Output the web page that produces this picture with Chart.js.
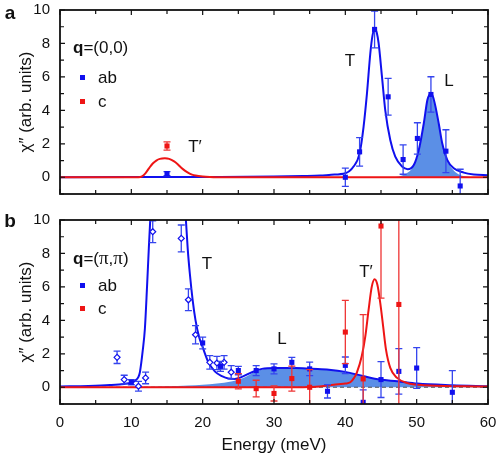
<!DOCTYPE html>
<html>
<head>
<meta charset="utf-8">
<script src="https://cdn.jsdelivr.net/npm/chart.js@4.4.1/dist/chart.umd.min.js"></script>
<style>
  body { margin: 0; background: #fff; }
  #wrap { position: relative; width: 503px; height: 459px; overflow: hidden; background: #fff; }
  canvas { position: absolute; left: 0; }
  .lab { position: absolute; font-family: 'Liberation Sans', Arial, sans-serif; font-size: 17px; color: #111;
         white-space: nowrap; transform: translate(-50%, -50%); line-height: 1; }
  .lft { transform: translate(0, -50%); }
  .pan { font-weight: bold; font-size: 19px; }
  .sq { position: absolute; width: 5px; height: 5px; }
  .pi { font-family: 'Liberation Serif', 'DejaVu Serif', serif; font-size: 19px; }
</style>
</head>
<body>
<div id="wrap">
  <canvas id="chartA" width="503" height="200" style="top:0"></canvas>
  <canvas id="chartB" width="503" height="259" style="top:200px"></canvas>

  <div class="lab pan" style="left:10px; top:12px">a</div>
  <div class="lab lft" style="left:73px; top:47px"><b>q</b>=(0,0)</div>
  <div class="sq" style="left:80px; top:75px; background:#1010ee"></div>
  <div class="lab lft" style="left:98px; top:77px">ab</div>
  <div class="sq" style="left:80px; top:99px; background:#ee1515"></div>
  <div class="lab lft" style="left:98px; top:101px">c</div>
  <div class="lab" style="left:195px; top:146px">T′</div>
  <div class="lab" style="left:350px; top:60px">T</div>
  <div class="lab" style="left:449px; top:80px">L</div>

  <div class="lab pan" style="left:10px; top:220px">b</div>
  <div class="lab lft" style="left:73px; top:257px"><b>q</b>=(<span class="pi">π</span>,<span class="pi">π</span>)</div>
  <div class="sq" style="left:80px; top:283px; background:#1010ee"></div>
  <div class="lab lft" style="left:98px; top:285px">ab</div>
  <div class="sq" style="left:80px; top:306px; background:#ee1515"></div>
  <div class="lab lft" style="left:98px; top:308px">c</div>
  <div class="lab" style="left:207px; top:263px">T</div>
  <div class="lab" style="left:282px; top:338px">L</div>
  <div class="lab" style="left:366px; top:271px">T′</div>
</div>

<script>
// 軸の目盛り
const energyTicks = [0, 10, 20, 30, 40, 50, 60];
const energyMinor = [5, 15, 25, 35, 45, 55];
const chiTicks = [0, 2, 4, 6, 8, 10];
const chiMinor = [-1, 1, 3, 5, 7, 9];

// (a) q=(0,0) の測定点
const aAbE = [15, 40, 42, 44.1, 46, 48.1, 50.1, 52, 54.1, 56.1];
const aAbY = [0.22, 0.0, 1.52, 8.84, 4.81, 1.06, 2.32, 4.95, 1.56, -0.52];
const aAbErr = [0.12, 0.55, 0.85, 1.1, 1.1, 0.88, 0.94, 1.06, 1.28, 1.0];
const aCE = [15];
const aCY = [1.87];
const aCErr = [0.25];

// (a) フィット曲線
const aFitE = [0, 10, 20, 30, 34, 36.5, 38, 40, 41.15, 42, 42.56, 43.03, 43.5, 43.8, 44.1, 44.4, 44.67, 45.14, 45.6, 46.3, 47, 47.95, 48.74, 49.6, 50.3, 51, 51.5, 51.75, 52, 52.3, 52.6, 53.1, 53.6, 54.3, 55.2, 56.6, 58, 60];
const aFitY = [0.0, 0.01, 0.02, 0.04, 0.07, 0.1, 0.15, 0.24, 0.64, 1.43, 3.03, 5.0, 7.4, 8.45, 8.9, 8.65, 8.0, 6.0, 4.0, 2.23, 1.23, 0.64, 0.48, 0.73, 1.63, 3.23, 4.62, 4.9, 5.0, 4.8, 4.3, 3.2, 2.0, 1.03, 0.54, 0.28, 0.17, 0.12];
const aLE = [46.5, 47.5, 48.2, 48.8, 49.3, 49.8, 50.3, 51, 51.5, 51.75, 52, 52.3, 52.6, 53.1, 53.6, 54.3, 55.2, 56, 57, 58];
const aLY = [0, 0.05, 0.15, 0.3, 0.5, 0.85, 1.5, 3.2, 4.6, 4.9, 5.0, 4.8, 4.3, 3.2, 2.0, 1.0, 0.4, 0.15, 0.04, 0];
const aTpE = [0, 10, 11, 11.5, 12, 12.5, 13, 13.5, 14, 14.7, 15.3, 16, 16.5, 17, 17.5, 18, 18.5, 19, 20, 21, 22, 30, 60];
const aTpY = [0, 0, 0, 0.05, 0.25, 0.55, 0.82, 1.0, 1.1, 1.13, 1.1, 0.95, 0.78, 0.57, 0.4, 0.26, 0.16, 0.1, 0.04, 0.01, 0, 0, 0];

// (b) q=(π,π) の測定点
const bDiaE = [8, 9, 11, 12, 13, 17, 18, 19, 21, 22, 23, 24];
const bDiaY = [1.79, 0.46, 0.06, 0.56, 9.3, 8.9, 5.23, 3.14, 1.49, 1.45, 1.49, 0.9];
const bDiaErr = [0.37, 0.26, 0.29, 0.35, 0.65, 0.8, 0.65, 0.55, 0.4, 0.4, 0.4, 0.4];
const bAbE = [10, 20, 22.5, 25, 27.5, 30, 32.5, 35, 37.5, 40, 42.5, 45, 47.5, 50, 55];
const bAbY = [0.3, 2.65, 1.25, 1.0, 1.0, 1.1, 1.49, 1.1, -0.24, 1.31, -0.9, 0.46, 0.95, 1.15, -0.3];
const bAbErr = [0.15, 0.35, 0.3, 0.25, 0.3, 0.3, 0.3, 0.4, 0.4, 0.5, 0.75, 1.07, 1.36, 1.22, 1.3];
const bCE = [25, 27.5, 30, 32.5, 35, 40, 42.5, 45, 47.5];
const bCY = [0.36, -0.08, -0.37, 0.52, 0.0, 3.3, 0.5, 9.64, 4.95];
const bCErr = [0.45, 0.5, 0.45, 0.75, 1.05, 1.89, 3.84, 4.31, 6.5];

// (b) フィット曲線
const bFitE = [0, 4, 7, 9, 10, 10.5, 11, 11.2, 11.6, 11.9, 12.2, 12.45, 12.65, 13.0, 13.5, 14.5, 15.5, 16.5, 17.0, 17.35, 17.65, 17.9, 18.2, 18.6, 19.0, 19.5, 20.0, 20.8, 21.7, 22.7, 23.6, 24.5, 25.5, 26.9, 28.3, 30.2, 33, 35.3, 37.7, 40, 42.6, 44.9, 47.3, 50.1, 55, 60];
const bFitY = [0.05, 0.08, 0.13, 0.2, 0.28, 0.38, 0.62, 0.9, 2.2, 3.5, 6.0, 8.3, 10, 12.5, 16, 19, 19, 16, 13, 11.5, 10, 8.3, 6.8, 5.2, 4.0, 3.0, 2.4, 1.5, 0.95, 0.66, 0.52, 0.5, 0.62, 0.9, 1.1, 1.15, 1.15, 1.1, 1.05, 0.92, 0.66, 0.46, 0.36, 0.22, 0.12, 0.06];
const bLE = [0, 10, 15, 18, 20, 22, 24, 25, 26, 27, 28, 29, 30.2, 33, 35.3, 37.7, 40, 42.6, 44.9, 47.3, 50.1, 55, 60];
const bLY = [0, 0.02, 0.06, 0.1, 0.15, 0.22, 0.35, 0.45, 0.62, 0.85, 1.02, 1.1, 1.15, 1.15, 1.1, 1.05, 0.92, 0.66, 0.46, 0.36, 0.22, 0.12, 0.06];
const bTpE = [0, 20, 30, 35, 37, 39, 40, 40.7, 41.2, 41.6, 42.3, 42.8, 43.26, 43.7, 44.1, 44.5, 44.9, 45.3, 45.7, 46.3, 47.25, 48.65, 51, 56.6, 60];
const bTpY = [0, 0, 0, 0.02, 0.08, 0.18, 0.22, 0.3, 0.55, 0.86, 1.85, 3.04, 4.63, 6.0, 6.46, 6.12, 5.03, 3.64, 2.25, 1.16, 0.56, 0.26, 0.12, 0.06, 0.05];
const zeroE = [0, 60];
const zeroY = [0, 0];

const BLUE = '#1010ee';
const RED = '#ee1515';
const FILL = '#5b8fe6';

Chart.defaults.font.family = "'Liberation Sans', Arial, sans-serif";
Chart.defaults.color = '#111';

function pts(xs, ys) {
  return xs.map((x, i) => ({ x: x, y: ys[i] }));
}

// エラーバー（点の直前に描く）
const errorBars = {
  id: 'errorBars',
  beforeDatasetDraw(chart, args) {
    const ds = chart.data.datasets[args.index];
    if (!ds.errors) return;
    const { ctx, chartArea, scales } = chart;
    ctx.save();
    ctx.beginPath();
    ctx.rect(chartArea.left, chartArea.top, chartArea.right - chartArea.left, chartArea.bottom - chartArea.top);
    ctx.clip();
    ctx.strokeStyle = ds.errColor;
    ctx.lineWidth = 1.3;
    ds.data.forEach((p, i) => {
      const e = ds.errors[i];
      const x = scales.x.getPixelForValue(p.x);
      const y1 = scales.y.getPixelForValue(p.y + e);
      const y2 = scales.y.getPixelForValue(p.y - e);
      ctx.beginPath();
      ctx.moveTo(x, y1); ctx.lineTo(x, y2);
      ctx.moveTo(x - 3.5, y1); ctx.lineTo(x + 3.5, y1);
      ctx.moveTo(x - 3.5, y2); ctx.lineTo(x + 3.5, y2);
      ctx.stroke();
    });
    ctx.restore();
  }
};

// 枠と内向きの目盛り
const frame = {
  id: 'frame',
  afterDraw(chart) {
    const { ctx, chartArea: a, scales } = chart;
    ctx.save();
    ctx.strokeStyle = '#111';
    ctx.lineWidth = 1.2;
    ctx.beginPath();
    const tickX = (v, len) => {
      const x = scales.x.getPixelForValue(v);
      ctx.moveTo(x, a.top); ctx.lineTo(x, a.top + len);
      ctx.moveTo(x, a.bottom); ctx.lineTo(x, a.bottom - len);
    };
    const tickY = (v, len) => {
      const y = scales.y.getPixelForValue(v);
      ctx.moveTo(a.left, y); ctx.lineTo(a.left + len, y);
      ctx.moveTo(a.right, y); ctx.lineTo(a.right - len, y);
    };
    energyTicks.forEach(v => tickX(v, 5));
    energyMinor.forEach(v => tickX(v, 4));
    chiTicks.forEach(v => tickY(v, 5));
    chiMinor.forEach(v => tickY(v, 4));
    ctx.stroke();
    ctx.lineWidth = 1.8;
    ctx.strokeRect(a.left, a.top, a.right - a.left, a.bottom - a.top);
    ctx.restore();
  }
};

function curve(data, color, order) {
  return { type: 'line', data: data, borderColor: color, borderWidth: 2, pointRadius: 0,
           cubicInterpolationMode: 'monotone', fill: false, order: order };
}
function area(data, order) {
  return { type: 'line', data: data, borderWidth: 0, borderColor: 'rgba(0,0,0,0)', backgroundColor: FILL,
           pointRadius: 0, cubicInterpolationMode: 'monotone', fill: 'origin', order: order };
}
function marks(data, errs, color, errColor, style, bg) {
  return { type: 'scatter', data: data, errors: errs, errColor: errColor, pointStyle: style,
           pointRadius: style === 'rect' ? 3.6 : 3.0, backgroundColor: bg || color, borderColor: color,
           borderWidth: style === 'rect' ? 0 : 1.2, order: 0 };
}

function noPad(s) {
  s.paddingTop = 0; s.paddingBottom = 0; s.paddingLeft = 0; s.paddingRight = 0;
}

function makeOptions(showX, top, xHeight) {
  return {
    responsive: false,
    animation: false,
    layout: { padding: { left: 0, right: 15, top: top, bottom: 0 } },
    plugins: { legend: { display: false }, tooltip: { enabled: false } },
    scales: {
      x: {
        type: 'linear', min: 0, max: 60,
        afterBuildTicks: s => { s.ticks = energyTicks.map(v => ({ value: v })); },
        afterFit: s => { s.height = xHeight; noPad(s); },
        grid: { display: false, drawTicks: false },
        border: { display: false },
        ticks: { display: showX, padding: 10, font: { size: 15 }, maxRotation: 0 },
        title: { display: showX, text: 'Energy (meV)', font: { size: 17 }, padding: { bottom: 3 } }
      },
      y: {
        type: 'linear', min: -1, max: 10,
        afterBuildTicks: s => { s.ticks = chiTicks.map(v => ({ value: v })); },
        afterFit: s => { s.width = 60; noPad(s); },
        grid: { display: false, drawTicks: false },
        border: { display: false },
        ticks: { padding: 10, font: { size: 15 } },
        title: { display: true, text: 'χ″ (arb. units)', font: { size: 17 }, padding: { top: 16 } }
      }
    }
  };
}

new Chart(document.getElementById('chartA'), {
  data: {
    datasets: [
      marks(pts(aCE, aCY), aCErr, RED, '#ee3535', 'rect'),
      marks(pts(aAbE, aAbY), aAbErr, BLUE, '#3545ee', 'rect'),
      curve(pts(aTpE, aTpY), RED, 1),
      curve(pts(aFitE, aFitY), BLUE, 2),
      area(pts(aLE, aLY), 3)
    ]
  },
  options: makeOptions(false, 10, 6),
  plugins: [errorBars, frame]
});

new Chart(document.getElementById('chartB'), {
  data: {
    datasets: [
      marks(pts(bCE, bCY), bCErr, RED, '#ee3535', 'rect'),
      marks(pts(bAbE, bAbY), bAbErr, BLUE, '#3545ee', 'rect'),
      marks(pts(bDiaE, bDiaY), bDiaErr, BLUE, '#3545ee', 'rectRot', '#ffffff'),
      curve(pts(bTpE, bTpY), RED, 1),
      curve(pts(bFitE, bFitY), BLUE, 2),
      { type: 'line', data: pts(zeroE, zeroY), borderColor: '#555', borderWidth: 1.2, borderDash: [4, 3],
        pointRadius: 0, order: 3 },
      area(pts(bLE, bLY), 4)
    ]
  },
  options: makeOptions(true, 20, 55),
  plugins: [errorBars, frame]
});
</script>
</body>
</html>
